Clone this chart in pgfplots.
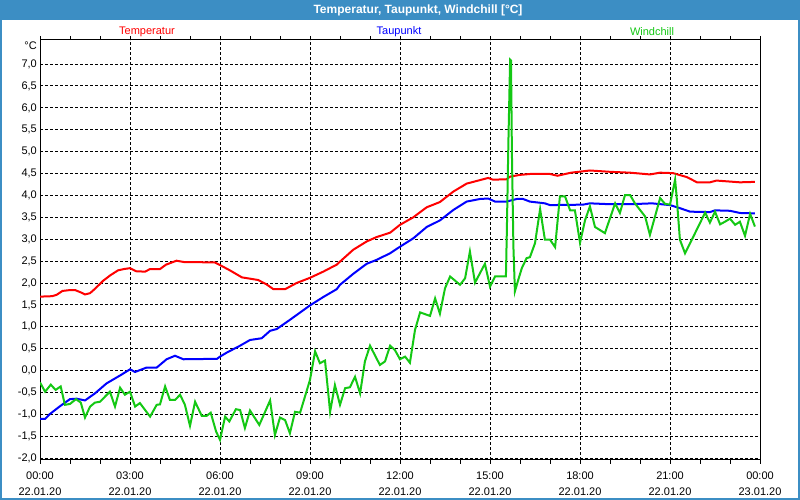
\documentclass[border=0pt]{standalone}
\usepackage{fontspec}
\setmainfont{Liberation Sans}
\usepackage{pgfplots}
\pgfplotsset{compat=1.18}
\usepackage{pgfplotstable}

\definecolor{barblue}{RGB}{60,142,196}
\definecolor{tred}{RGB}{255,0,0}
\definecolor{tblue}{RGB}{0,0,255}
\definecolor{wgreen}{RGB}{20,200,20}

% hours since 00:00 on 22.01.20, degrees C
\pgfplotstableread{
h v
0 1.69
0.4 1.70
0.55 1.73
0.75 1.82
1.0 1.84
1.17 1.84
1.35 1.79
1.5 1.74
1.67 1.77
1.85 1.88
2.1 2.05
2.35 2.18
2.6 2.29
2.8 2.32
3.0 2.34
3.2 2.27
3.5 2.26
3.67 2.32
4.0 2.32
4.2 2.42
4.55 2.51
4.8 2.48
5.0 2.48
5.83 2.47
6.0 2.41
6.33 2.29
6.73 2.13
7.27 2.07
7.55 1.97
7.78 1.86
8.17 1.86
8.55 2.0
9.0 2.12
9.44 2.26
9.89 2.42
10.0 2.49
10.44 2.76
10.89 2.95
11.22 3.05
11.67 3.15
12.0 3.33
12.44 3.50
12.89 3.73
13.33 3.85
13.78 4.09
14.22 4.27
14.55 4.33
14.94 4.40
15.1 4.36
15.55 4.37
15.67 4.43
16.0 4.47
16.33 4.49
17.0 4.49
17.25 4.45
17.7 4.52
18.33 4.57
19.0 4.54
19.67 4.52
20.33 4.48
20.67 4.52
21.1 4.51
21.56 4.42
21.9 4.30
22.33 4.30
22.55 4.34
23.33 4.30
23.83 4.31
}\temperatur

\pgfplotstableread{
h v
0 -1.10
0.17 -1.10
0.33 -0.99
0.67 -0.81
1.0 -0.65
1.22 -0.64
1.5 -0.68
1.83 -0.52
2.22 -0.29
2.67 -0.11
3.0 0.03
3.17 -0.03
3.55 0.07
3.89 0.07
4.22 0.26
4.5 0.34
4.78 0.26
5.9 0.27
6.0 0.32
6.22 0.41
6.67 0.57
7.0 0.70
7.39 0.74
7.67 0.91
7.89 0.95
8.33 1.16
9.0 1.49
9.44 1.68
9.89 1.86
10.0 1.96
10.44 2.21
10.89 2.44
11.22 2.53
11.67 2.68
12.0 2.83
12.44 3.02
12.89 3.28
13.33 3.43
13.78 3.67
14.22 3.86
14.67 3.92
14.94 3.93
15.17 3.86
15.55 3.86
15.9 3.92
16.1 3.92
16.33 3.86
16.83 3.82
17.0 3.78
18.1 3.79
18.33 3.82
19.0 3.80
19.67 3.80
20.4 3.82
21.0 3.78
21.33 3.71
21.67 3.63
22.33 3.62
22.5 3.66
23.0 3.65
23.33 3.60
23.83 3.59
}\taupunkt

\pgfplotstableread{
h v
0 -0.27
0.17 -0.48
0.36 -0.32
0.52 -0.44
0.69 -0.36
0.83 -0.78
1.0 -0.76
1.2 -0.65
1.36 -0.73
1.5 -1.07
1.67 -0.82
1.83 -0.73
2.0 -0.71
2.33 -0.48
2.5 -0.82
2.67 -0.39
2.83 -0.55
3.0 -0.48
3.17 -0.82
3.33 -0.74
3.67 -1.05
3.89 -0.78
4.0 -0.77
4.17 -0.36
4.33 -0.67
4.5 -0.67
4.67 -0.55
4.83 -0.78
5.0 -1.26
5.17 -0.71
5.39 -1.03
5.56 -1.03
5.69 -0.96
5.87 -1.39
6.0 -1.58
6.17 -1.05
6.31 -1.16
6.53 -0.88
6.67 -0.90
6.83 -1.31
7.0 -0.91
7.31 -1.24
7.67 -0.68
7.83 -1.47
8.0 -1.07
8.17 -1.13
8.33 -1.43
8.5 -0.94
8.67 -0.96
9.0 -0.21
9.17 0.44
9.33 0.17
9.5 0.23
9.67 -0.94
9.83 -0.33
10.0 -0.78
10.17 -0.40
10.33 -0.38
10.5 -0.14
10.67 -0.52
10.83 0.21
11.0 0.57
11.33 0.13
11.5 0.21
11.67 0.57
11.83 0.47
12.0 0.26
12.17 0.32
12.33 0.18
12.5 0.93
12.67 1.33
13.0 1.25
13.17 1.65
13.33 1.30
13.5 1.88
13.67 2.15
14.0 1.96
14.17 2.11
14.33 2.72
14.5 2.01
14.83 2.44
15.0 1.92
15.17 2.15
15.53 2.15
15.56 3.14
15.61 5.12
15.64 6.11
15.67 7.10
15.70 7.08
15.73 4.97
15.78 2.83
15.83 1.81
15.94 2.07
16.06 2.34
16.22 2.57
16.33 2.59
16.5 2.91
16.67 3.69
16.83 2.99
17.0 2.99
17.17 2.82
17.33 3.98
17.5 3.98
17.67 3.66
17.83 3.66
18.0 2.92
18.17 3.44
18.33 3.75
18.5 3.28
18.83 3.14
19.17 3.82
19.33 3.60
19.5 4.01
19.67 4.01
19.83 3.82
20.17 3.52
20.33 3.10
20.67 3.94
20.83 3.81
21.0 3.79
21.17 4.36
21.22 3.98
21.33 2.99
21.5 2.68
21.67 2.91
22.0 3.37
22.17 3.61
22.33 3.38
22.5 3.63
22.67 3.34
22.83 3.40
23.0 3.47
23.17 3.33
23.33 3.40
23.5 3.08
23.67 3.58
23.83 3.29
}\windchill

\begin{document}
\begin{tikzpicture}[x=1bp,y=1bp]
\useasboundingbox (0,0) rectangle (800,500);
\fill[white] (0,0) rectangle (800,500);
\fill[barblue] (0,480) rectangle (800,500);
\draw[barblue, line width=2bp] (1,0) -- (1,500);
\draw[barblue, line width=2bp] (799,0) -- (799,500);
\draw[barblue, line width=2bp] (0,1) -- (800,1);
\node[white, font=\bfseries\fontsize{12bp}{14bp}\selectfont] at (418,490) {Temperatur, Taupunkt, Windchill [°C]};

\node[tred, font=\fontsize{11bp}{13bp}\selectfont] at (147,468) {Temperatur};
\node[tblue, font=\fontsize{11bp}{13bp}\selectfont] at (399,468) {Taupunkt};
\node[wgreen, font=\fontsize{11bp}{13bp}\selectfont] at (652,468) {Windchill};
\node[anchor=east, inner sep=0pt, font=\fontsize{11bp}{13bp}\selectfont] at (37,454) {°C};

\begin{axis}[
    at={(40bp,40bp)}, anchor=south west,
    width=720bp, height=420bp, scale only axis,
    xmin=0, xmax=24, ymin=-2.04, ymax=7.55,
    xtick={0,3,6,9,12,15,18,21,24},
    xticklabels={{00:00\\22.01.20},{03:00\\22.01.20},{06:00\\22.01.20},{09:00\\22.01.20},{12:00\\22.01.20},{15:00\\22.01.20},{18:00\\22.01.20},{21:00\\22.01.20},{00:00\\23.01.20}},
    minor x tick num=2,
    ytick={-2,-1.5,-1,-0.5,0,0.5,1,1.5,2,2.5,3,3.5,4,4.5,5,5.5,6,6.5,7},
    grid=major,
    major grid style={black, line width=1bp, dash pattern=on 3bp off 2bp},
    axis line style={black, line width=1bp},
    tick align=outside,
    major tick length=4bp, minor tick length=4bp,
    xtick style={black, line width=1bp},
    ytick style={draw=none},
    ticklabel style={font=\fontsize{11bp}{16bp}\selectfont},
    xticklabel style={font=\fontsize{11bp}{16bp}\selectfont, align=center, inner sep=0pt, yshift=-8bp},
    yticklabel style={anchor=east, inner sep=0pt, xshift=1bp},
    /pgf/number format/.cd, use comma, fixed, fixed zerofill, precision=1, assume math mode=true,
]
\addplot[tred, line width=2bp] table[x=h, y=v] {\temperatur};
\addplot[tblue, line width=2bp] table[x=h, y=v] {\taupunkt};
\addplot[wgreen, line width=2bp] table[x=h, y=v] {\windchill};
\end{axis}
\end{tikzpicture}
\end{document}
